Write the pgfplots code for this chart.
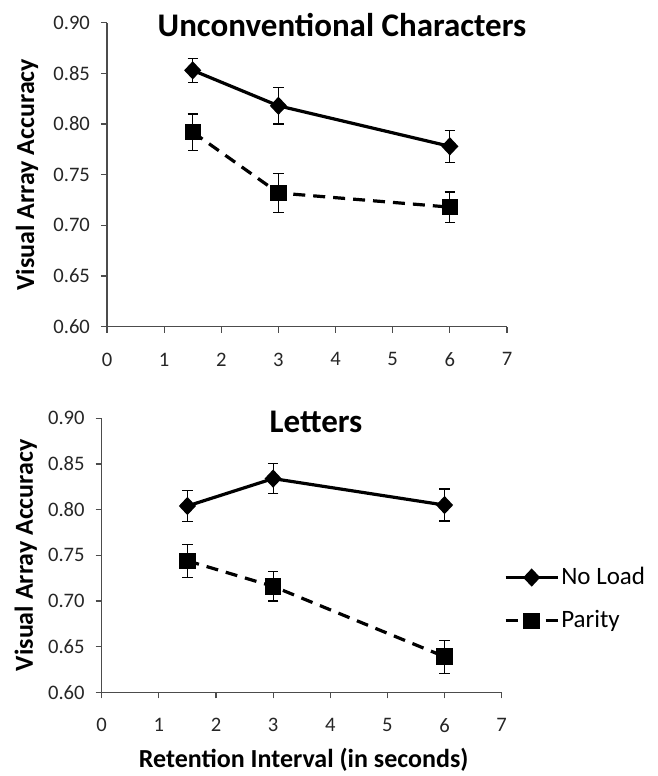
\documentclass[border=0pt]{standalone}
\usepackage{fontspec}
\setmainfont{Carlito}
\usepackage{pgfplots}
\pgfplotsset{compat=1.18}

\pgfplotsset{
  panel/.style={
    scale only axis,
    width=200pt,
    xmin=0, xmax=7,
    ymin=0.60, ymax=0.90,
    xtick={0,1,...,7},
    ytick={0.60,0.65,...,0.90},
    axis lines=left,
    axis line style={-, black!70, line width=0.6pt},
    tick style={black!70, line width=0.6pt},
    tick align=outside,
    major tick length=3pt,
    /pgf/number format/assume math mode=true,
    yticklabel style={/pgf/number format/fixed, /pgf/number format/fixed zerofill,
      /pgf/number format/precision=2, xshift=-2pt},
    ticklabel style={font=\fontsize{10.3}{12}\selectfont, text=black!85},
    xticklabel style={yshift=-6.5pt},
    every axis y label/.style={rotate=90, anchor=center, font=\fontsize{13}{15}\selectfont\bfseries},
    every axis x label/.style={anchor=center, font=\fontsize{13}{15}\selectfont\bfseries},
    every axis title shift=0pt,
    title style={font=\fontsize{16.5}{18}\selectfont\bfseries, anchor=center},
    clip=false,
  },
  noload/.style={black, line width=1.6pt, mark=diamond*, mark size=3.4pt,
    mark options={solid, xscale=1.25},
    error bars/.cd, y dir=both, y explicit,
    error bar style={solid, line width=0.6pt},
    error mark options={solid, line width=0.6pt, mark size=2.6pt, rotate=90}},
  parity/.style={black, line width=1.6pt, dash pattern=on 6pt off 4pt, mark=square*, mark size=3.3pt,
    mark options={solid},
    error bars/.cd, y dir=both, y explicit,
    error bar style={solid, line width=0.6pt},
    error mark options={solid, line width=0.6pt, mark size=2.6pt, rotate=90}},
}

\begin{document}
\begin{tikzpicture}
\useasboundingbox (0,0) rectangle (329pt,-388pt);

% top panel: unconventional characters
\begin{axis}[panel,
  at={(53.5pt,-163.35pt)}, anchor=south west,
  height=152pt,
  ylabel={Visual Array Accuracy},
  every axis y label/.append style={at={(axis description cs:-0.2,0.5)}},
  title={Unconventional Characters},
  title style={at={(axis description cs:0.5875,0.992)}, anchor=center},
]
\addplot[noload] coordinates {
  (1.5,0.853) +- (0,0.012)
  (3,0.818)   +- (0,0.018)
  (6,0.778)   +- (0,0.016)
};
\addplot[parity] coordinates {
  (1.5,0.792) +- (0,0.018)
  (3,0.732)   +- (0,0.019)
  (6,0.718)   +- (0,0.015)
};
\end{axis}

% bottom panel: letters
\begin{axis}[panel,
  at={(50.85pt,-346.15pt)}, anchor=south west,
  height=137pt,
  ylabel={Visual Array Accuracy},
  every axis y label/.append style={at={(axis description cs:-0.19,0.5)}},
  xlabel={Retention Interval (in seconds)},
  every axis x label/.append style={at={(axis description cs:0.505,-0.248)}},
  title={Letters},
  title style={at={(axis description cs:0.536,0.986)}, anchor=center},
  legend style={at={(axis description cs:1.005,0.34)}, anchor=west,
    draw=none, fill=none, inner sep=0pt, row sep=9.5pt,
    font=\fontsize{12.5}{14}\selectfont,
    nodes={inner sep=1pt}},
  legend cell align=left,
  legend image code/.code={
    \draw[#1, mark repeat=2, mark phase=2]
      plot coordinates {(0pt,0pt) (13pt,0pt) (26pt,0pt)};},
]
\addplot[noload] coordinates {
  (1.5,0.804) +- (0,0.017)
  (3,0.834)   +- (0,0.0165)
  (6,0.805)   +- (0,0.0175)
};
\addlegendentry{No Load}
\addplot[parity] coordinates {
  (1.5,0.744) +- (0,0.018)
  (3,0.716)   +- (0,0.016)
  (6,0.639)   +- (0,0.018)
};
\addlegendentry{Parity}
\end{axis}
\end{tikzpicture}
\end{document}
